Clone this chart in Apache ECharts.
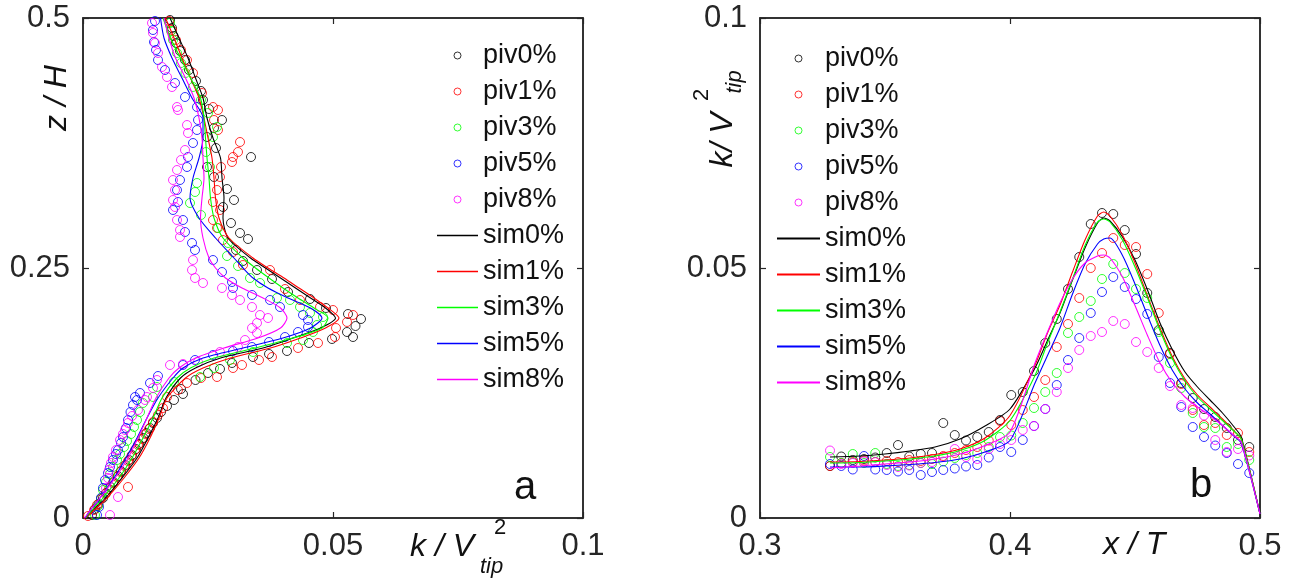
<!DOCTYPE html>
<html>
<head>
<meta charset="utf-8">
<script src="https://cdn.jsdelivr.net/npm/echarts@6/dist/echarts.min.js"></script>
<style>
html,body{margin:0;padding:0;background:#fff;}
#chart{width:1299px;height:583px;}
</style>
</head>
<body>
<div id="chart"></div>
<script>
// ---- series names and colours ----
const pivNames = ['piv0%', 'piv1%', 'piv3%', 'piv5%', 'piv8%'];
const simNames = ['sim0%', 'sim1%', 'sim3%', 'sim5%', 'sim8%'];
const seriesColors = ['#000000', '#ff0000', '#00ff00', '#0000ff', '#ff00ff'];

// ---- tick values / labels ----
const aXTicks = [0, 0.05, 0.1];   const aXLabels = ['0', '0.05', '0.1'];
const aYTicks = [0, 0.25, 0.5];   const aYLabels = ['0', '0.25', '0.5'];
const bXTicks = [0.3, 0.4, 0.5];  const bXLabels = ['0.3', '0.4', '0.5'];
const bYTicks = [0, 0.05, 0.1];   const bYLabels = ['0', '0.05', '0.1'];

// ---- panel a: measured profiles, pairs of [k/Vtip^2, z/H] ----
const pivA0 = [[0.0018,0.003],[0.0024,0.009],[0.0031,0.014],[0.0040,0.020],[0.0046,0.025],[0.0055,0.031],[0.0061,0.036],[0.0070,0.042],[0.0076,0.047],[0.0085,0.053],[0.0092,0.058],[0.0098,0.063],[0.0106,0.069],[0.0112,0.074],[0.0121,0.080],[0.0127,0.085],[0.0134,0.090],[0.0140,0.095],[0.0148,0.100],[0.0156,0.106],[0.0168,0.112],[0.0182,0.118],[0.0200,0.124],[0.0196,0.129],[0.0225,0.138],[0.0250,0.145],[0.0274,0.149],[0.0298,0.155],[0.0340,0.161],[0.0372,0.164],[0.0408,0.167],[0.0452,0.175],[0.0498,0.179],[0.0540,0.181],[0.0528,0.186],[0.0545,0.192],[0.0556,0.199],[0.0530,0.204],[0.0486,0.210],[0.0454,0.219],[0.0410,0.226],[0.0378,0.239],[0.0348,0.248],[0.0320,0.257],[0.0306,0.268],[0.0330,0.279],[0.0314,0.285],[0.0296,0.295],[0.0280,0.311],[0.0302,0.318],[0.0288,0.329],[0.0262,0.341],[0.0248,0.351],[0.0336,0.361],[0.0266,0.370],[0.0248,0.381],[0.0262,0.390],[0.0278,0.398],[0.0252,0.409],[0.0240,0.418],[0.0236,0.427],[0.0226,0.437],[0.0212,0.448],[0.0204,0.458],[0.0194,0.467],[0.0186,0.475],[0.0181,0.482],[0.0178,0.490],[0.0174,0.498]];
const pivA1 = [[0.0010,0.002],[0.0022,0.008],[0.0028,0.013],[0.0036,0.019],[0.0045,0.024],[0.0052,0.029],[0.0090,0.031],[0.0060,0.035],[0.0068,0.041],[0.0075,0.046],[0.0083,0.052],[0.0090,0.057],[0.0097,0.062],[0.0104,0.068],[0.0110,0.073],[0.0118,0.079],[0.0125,0.084],[0.0132,0.089],[0.0140,0.096],[0.0150,0.103],[0.0160,0.110],[0.0168,0.121],[0.0190,0.128],[0.0208,0.135],[0.0236,0.140],[0.0268,0.141],[0.0300,0.150],[0.0318,0.153],[0.0352,0.158],[0.0378,0.161],[0.0430,0.170],[0.0470,0.175],[0.0504,0.181],[0.0506,0.190],[0.0528,0.196],[0.0540,0.203],[0.0500,0.208],[0.0474,0.211],[0.0434,0.218],[0.0404,0.229],[0.0374,0.248],[0.0320,0.253],[0.0300,0.266],[0.0280,0.278],[0.0268,0.290],[0.0260,0.298],[0.0274,0.308],[0.0260,0.316],[0.0268,0.328],[0.0274,0.341],[0.0276,0.351],[0.0298,0.356],[0.0300,0.361],[0.0310,0.366],[0.0314,0.376],[0.0270,0.388],[0.0262,0.398],[0.0270,0.408],[0.0260,0.411],[0.0238,0.425],[0.0220,0.445],[0.0208,0.458],[0.0196,0.468],[0.0186,0.478],[0.0178,0.488],[0.0172,0.497]];
const pivA2 = [[0.0024,0.003],[0.0030,0.012],[0.0036,0.020],[0.0040,0.028],[0.0046,0.036],[0.0054,0.044],[0.0060,0.051],[0.0068,0.058],[0.0074,0.064],[0.0082,0.071],[0.0088,0.077],[0.0096,0.084],[0.0102,0.091],[0.0108,0.098],[0.0114,0.106],[0.0120,0.115],[0.0140,0.121],[0.0148,0.131],[0.0182,0.136],[0.0234,0.141],[0.0262,0.150],[0.0294,0.158],[0.0340,0.166],[0.0408,0.175],[0.0440,0.178],[0.0460,0.186],[0.0468,0.193],[0.0480,0.201],[0.0454,0.205],[0.0434,0.211],[0.0414,0.218],[0.0388,0.220],[0.0354,0.235],[0.0334,0.240],[0.0310,0.252],[0.0288,0.262],[0.0290,0.275],[0.0270,0.290],[0.0236,0.303],[0.0214,0.315],[0.0224,0.326],[0.0228,0.335],[0.0254,0.351],[0.0246,0.366],[0.0260,0.381],[0.0268,0.391],[0.0250,0.405],[0.0236,0.418],[0.0220,0.431],[0.0205,0.445],[0.0196,0.455],[0.0188,0.465],[0.0180,0.478],[0.0176,0.487],[0.0174,0.495]];
const pivA3 = [[0.0028,0.003],[0.0032,0.011],[0.0036,0.020],[0.0040,0.030],[0.0044,0.038],[0.0050,0.045],[0.0054,0.051],[0.0060,0.058],[0.0066,0.064],[0.0070,0.068],[0.0076,0.075],[0.0080,0.081],[0.0086,0.090],[0.0090,0.098],[0.0095,0.106],[0.0100,0.113],[0.0108,0.118],[0.0104,0.121],[0.0114,0.125],[0.0134,0.135],[0.0150,0.142],[0.0200,0.153],[0.0224,0.158],[0.0260,0.163],[0.0300,0.167],[0.0338,0.171],[0.0372,0.176],[0.0404,0.181],[0.0430,0.186],[0.0450,0.191],[0.0450,0.198],[0.0440,0.203],[0.0394,0.211],[0.0374,0.218],[0.0338,0.223],[0.0300,0.230],[0.0298,0.236],[0.0278,0.246],[0.0260,0.258],[0.0224,0.268],[0.0218,0.275],[0.0204,0.286],[0.0200,0.298],[0.0180,0.308],[0.0190,0.316],[0.0188,0.328],[0.0194,0.338],[0.0208,0.351],[0.0210,0.361],[0.0220,0.375],[0.0228,0.388],[0.0230,0.398],[0.0228,0.411],[0.0204,0.421],[0.0184,0.435],[0.0164,0.448],[0.0150,0.458],[0.0146,0.468],[0.0142,0.476],[0.0140,0.488],[0.0144,0.497]];
const pivA4 = [[0.0054,0.003],[0.0070,0.021],[0.0046,0.030],[0.0050,0.040],[0.0052,0.048],[0.0056,0.055],[0.0060,0.061],[0.0066,0.068],[0.0074,0.078],[0.0080,0.084],[0.0084,0.088],[0.0090,0.095],[0.0098,0.102],[0.0110,0.108],[0.0124,0.118],[0.0128,0.121],[0.0140,0.130],[0.0148,0.138],[0.0174,0.153],[0.0200,0.154],[0.0230,0.156],[0.0274,0.166],[0.0310,0.171],[0.0324,0.178],[0.0348,0.185],[0.0338,0.190],[0.0348,0.195],[0.0370,0.200],[0.0354,0.203],[0.0338,0.211],[0.0314,0.218],[0.0298,0.223],[0.0278,0.230],[0.0240,0.235],[0.0224,0.240],[0.0218,0.248],[0.0220,0.258],[0.0194,0.281],[0.0194,0.288],[0.0188,0.298],[0.0184,0.311],[0.0180,0.318],[0.0184,0.328],[0.0180,0.338],[0.0188,0.348],[0.0196,0.358],[0.0204,0.368],[0.0210,0.385],[0.0208,0.393],[0.0190,0.408],[0.0188,0.411],[0.0178,0.431],[0.0168,0.441],[0.0158,0.451],[0.0150,0.465],[0.0144,0.475],[0.0140,0.485],[0.0138,0.495]];

// ---- panel a: simulated profiles, k/Vtip^2 at each height simZ ----
const simZ  = [0, 0.01, 0.02, 0.04, 0.06, 0.08, 0.10, 0.12, 0.14, 0.15, 0.16, 0.17, 0.18, 0.19, 0.20, 0.21, 0.22, 0.23, 0.24, 0.25, 0.26, 0.28, 0.30, 0.32, 0.34, 0.36, 0.38, 0.40, 0.42, 0.44, 0.46, 0.48, 0.50];
const simA0 = [0.0006, 0.0025, 0.0045, 0.0078, 0.0108, 0.0130, 0.0150, 0.0166, 0.0195, 0.0225, 0.0275, 0.0360, 0.0420, 0.0475, 0.0505, 0.0485, 0.0455, 0.0425, 0.0395, 0.0365, 0.0335, 0.0290, 0.0280, 0.0282, 0.0278, 0.0275, 0.0260, 0.0248, 0.0240, 0.0225, 0.0210, 0.0192, 0.0174];
const simA1 = [0.0005, 0.0027, 0.0048, 0.0082, 0.0112, 0.0134, 0.0152, 0.0168, 0.0205, 0.0240, 0.0295, 0.0375, 0.0435, 0.0485, 0.0512, 0.0490, 0.0462, 0.0432, 0.0402, 0.0370, 0.0340, 0.0292, 0.0272, 0.0265, 0.0262, 0.0258, 0.0250, 0.0242, 0.0232, 0.0215, 0.0198, 0.0182, 0.0165];
const simA2 = [0.0005, 0.0022, 0.0040, 0.0072, 0.0098, 0.0120, 0.0140, 0.0158, 0.0188, 0.0215, 0.0262, 0.0345, 0.0420, 0.0478, 0.0490, 0.0462, 0.0430, 0.0400, 0.0372, 0.0345, 0.0320, 0.0280, 0.0262, 0.0255, 0.0252, 0.0248, 0.0245, 0.0242, 0.0235, 0.0215, 0.0195, 0.0175, 0.0160];
const simA3 = [0.0004, 0.0018, 0.0034, 0.0062, 0.0086, 0.0108, 0.0128, 0.0150, 0.0180, 0.0200, 0.0240, 0.0320, 0.0400, 0.0455, 0.0478, 0.0455, 0.0410, 0.0370, 0.0340, 0.0320, 0.0302, 0.0265, 0.0232, 0.0214, 0.0220, 0.0232, 0.0240, 0.0240, 0.0218, 0.0198, 0.0178, 0.0162, 0.0155];
const simA4 = [0.0003, 0.0018, 0.0034, 0.0064, 0.0090, 0.0110, 0.0128, 0.0146, 0.0172, 0.0192, 0.0225, 0.0282, 0.0350, 0.0395, 0.0408, 0.0395, 0.0360, 0.0318, 0.0285, 0.0265, 0.0252, 0.0240, 0.0235, 0.0238, 0.0242, 0.0240, 0.0238, 0.0232, 0.0222, 0.0205, 0.0185, 0.0172, 0.0162];

// ---- panel b: measured k/Vtip^2 at stations pivX ----
const pivX  = [0.3280, 0.3325, 0.3371, 0.3416, 0.3461, 0.3507, 0.3552, 0.3597, 0.3643, 0.3688, 0.3733, 0.3779, 0.3824, 0.3869, 0.3915, 0.3960, 0.4005, 0.4051, 0.4096, 0.4141, 0.4187, 0.4232, 0.4277, 0.4323, 0.4368, 0.4413, 0.4459, 0.4504, 0.4549, 0.4595, 0.4640, 0.4685, 0.4731, 0.4776, 0.4821, 0.4867, 0.4912, 0.4957];
const pivB0 = [0.0104, 0.0123, 0.0116, 0.0118, 0.0121, 0.0130, 0.0146, 0.0123, 0.0128, 0.0130, 0.0190, 0.0166, 0.0155, 0.0162, 0.0172, 0.0196, 0.0246, 0.0252, 0.0294, 0.0350, 0.0398, 0.0458, 0.0522, 0.0588, 0.0610, 0.0608, 0.0576, 0.0528, 0.0450, 0.0376, 0.0330, 0.0270, 0.0240, 0.0218, 0.0202, 0.0180, 0.0156, 0.0142];
const pivB1 = [0.0104, 0.0110, 0.0112, 0.0115, 0.0112, 0.0114, 0.0112, 0.0116, 0.0114, 0.0118, 0.0124, 0.0130, 0.0136, 0.0142, 0.0155, 0.0194, 0.0186, 0.0216, 0.0242, 0.0276, 0.0342, 0.0388, 0.0440, 0.0500, 0.0530, 0.0560, 0.0546, 0.0542, 0.0488, 0.0410, 0.0328, 0.0268, 0.0216, 0.0186, 0.0190, 0.0166, 0.0170, 0.0132];
const pivB2 = [0.0122, 0.0110, 0.0128, 0.0110, 0.0130, 0.0108, 0.0104, 0.0106, 0.0110, 0.0108, 0.0113, 0.0120, 0.0126, 0.0130, 0.0142, 0.0162, 0.0165, 0.0190, 0.0220, 0.0252, 0.0290, 0.0370, 0.0402, 0.0434, 0.0478, 0.0508, 0.0490, 0.0458, 0.0440, 0.0372, 0.0310, 0.0260, 0.0210, 0.0182, 0.0180, 0.0142, 0.0148, 0.0116];
const pivB3 = [0.0108, 0.0104, 0.0097, 0.0124, 0.0097, 0.0096, 0.0093, 0.0096, 0.0086, 0.0092, 0.0096, 0.0099, 0.0103, 0.0106, 0.0121, 0.0142, 0.0132, 0.0156, 0.0184, 0.0218, 0.0266, 0.0316, 0.0360, 0.0410, 0.0452, 0.0482, 0.0462, 0.0438, 0.0408, 0.0322, 0.0270, 0.0222, 0.0182, 0.0162, 0.0145, 0.0130, 0.0108, 0.0090];
const pivB4 = [0.0135, 0.0108, 0.0110, 0.0113, 0.0112, 0.0106, 0.0102, 0.0105, 0.0110, 0.0112, 0.0122, 0.0138, 0.0122, 0.0118, 0.0138, 0.0148, 0.0156, 0.0176, 0.0184, 0.0218, 0.0252, 0.0300, 0.0336, 0.0364, 0.0372, 0.0394, 0.0388, 0.0352, 0.0332, 0.0300, 0.0264, 0.0226, 0.0220, 0.0205, 0.0156, 0.0132, 0.0138, 0.0125];

// ---- panel b: simulated k/Vtip^2 along simX ----
const simX  = [0.328, 0.34, 0.35, 0.36, 0.37, 0.38, 0.39, 0.40, 0.41, 0.415, 0.42, 0.425, 0.43, 0.435, 0.4375, 0.44, 0.445, 0.45, 0.455, 0.46, 0.465, 0.47, 0.475, 0.48, 0.485, 0.49, 0.4925, 0.5];
const simB0 = [0.0122, 0.0124, 0.0128, 0.0134, 0.0142, 0.0158, 0.0184, 0.0218, 0.0300, 0.0355, 0.0410, 0.0476, 0.0540, 0.0590, 0.0600, 0.0594, 0.0562, 0.0516, 0.0456, 0.0390, 0.0336, 0.0292, 0.0262, 0.0236, 0.0210, 0.0180, 0.0162, 0.0008];
const simB1 = [0.0112, 0.0113, 0.0116, 0.0120, 0.0127, 0.0138, 0.0160, 0.0205, 0.0306, 0.0370, 0.0426, 0.0492, 0.0556, 0.0604, 0.0612, 0.0604, 0.0566, 0.0510, 0.0444, 0.0380, 0.0322, 0.0278, 0.0246, 0.0222, 0.0198, 0.0172, 0.0158, 0.0008];
const simB2 = [0.0110, 0.0111, 0.0114, 0.0118, 0.0124, 0.0135, 0.0155, 0.0195, 0.0285, 0.0350, 0.0412, 0.0478, 0.0545, 0.0592, 0.0598, 0.0592, 0.0556, 0.0502, 0.0440, 0.0375, 0.0318, 0.0274, 0.0242, 0.0218, 0.0195, 0.0172, 0.0158, 0.0008];
const simB3 = [0.0102, 0.0102, 0.0104, 0.0107, 0.0111, 0.0118, 0.0132, 0.0155, 0.0270, 0.0325, 0.0380, 0.0448, 0.0508, 0.0548, 0.0558, 0.0560, 0.0525, 0.0468, 0.0405, 0.0345, 0.0295, 0.0258, 0.0230, 0.0208, 0.0185, 0.0162, 0.0150, 0.0008];
const simB4 = [0.0100, 0.0104, 0.0108, 0.0112, 0.0118, 0.0128, 0.0145, 0.0172, 0.0310, 0.0372, 0.0430, 0.0478, 0.0510, 0.0524, 0.0526, 0.0520, 0.0482, 0.0425, 0.0365, 0.0310, 0.0270, 0.0242, 0.0222, 0.0204, 0.0185, 0.0163, 0.0152, 0.0008];

const pivA = [pivA0, pivA1, pivA2, pivA3, pivA4];
const simA = [simA0, simA1, simA2, simA3, simA4];
const pivB = [pivB0, pivB1, pivB2, pivB3, pivB4];
const simB = [simB0, simB1, simB2, simB3, simB4];

const FONT = '"Liberation Sans", Arial, sans-serif';
const INK = '#262626';

function labelFor(ticks, labels) {
  return function (v) {
    const i = ticks.findIndex(t => Math.abs(t - v) < 1e-9);
    return i >= 0 ? labels[i] : '';
  };
}

function valueAxis(grid, pos, ticks, labels, showLabel, margin) {
  return {
    type: 'value', gridIndex: grid, position: pos,
    min: ticks[0], max: ticks[ticks.length - 1], interval: ticks[1] - ticks[0],
    axisLine: { show: true, onZero: false, lineStyle: { color: INK, width: 1.5 } },
    axisTick: { show: true, inside: true, length: 6, lineStyle: { color: INK, width: 1.2 } },
    splitLine: { show: false },
    axisLabel: { show: showLabel, color: INK, fontSize: 31, fontFamily: FONT, margin: margin,
                 formatter: labelFor(ticks, labels) }
  };
}

const series = [];
// measured points (drawn first, lines over them)
pivNames.forEach((name, i) => {
  series.push({
    name: name, type: 'scatter', xAxisIndex: 0, yAxisIndex: 0,
    symbol: 'circle', symbolSize: 9,
    itemStyle: { color: 'rgba(0,0,0,0)', borderColor: seriesColors[i], borderWidth: 1 },
    data: pivA[i], z: 2, silent: true
  });
  series.push({
    name: name, type: 'scatter', xAxisIndex: 2, yAxisIndex: 2,
    symbol: 'circle', symbolSize: 9,
    itemStyle: { color: 'rgba(0,0,0,0)', borderColor: seriesColors[i], borderWidth: 1 },
    data: pivX.map((x, j) => [x, pivB[i][j]]), z: 2, silent: true
  });
});
simNames.forEach((name, i) => {
  series.push({
    name: name, type: 'line', xAxisIndex: 0, yAxisIndex: 0,
    symbol: 'none', smooth: 0.25,
    lineStyle: { color: seriesColors[i], width: 1.1 },
    itemStyle: { color: seriesColors[i] },
    data: simZ.map((z, j) => [simA[i][j], z]), z: 3, silent: true
  });
  series.push({
    name: name, type: 'line', xAxisIndex: 2, yAxisIndex: 2,
    symbol: 'none', smooth: 0.25,
    lineStyle: { color: seriesColors[i], width: 1.1 },
    itemStyle: { color: seriesColors[i] },
    data: simX.map((x, j) => [x, simB[i][j]]), z: 3, silent: true
  });
});

// legend entries: small open circles for measurements, plain thin strokes for simulations
const LINE_ICON = 'path://M0,0L40,0L40,1.7L0,1.7Z';
const legendData = pivNames.map((n, i) => ({
  name: n, icon: 'circle',
  itemStyle: { color: 'rgba(0,0,0,0)', borderColor: seriesColors[i], borderWidth: 1 }
})).concat(simNames.map((n, i) => ({
  name: n, icon: LINE_ICON,
  itemStyle: { color: seriesColors[i], borderWidth: 0, opacity: 1 }
})));

const legendBase = {
  data: legendData,
  orient: 'vertical', padding: 0, itemGap: 9, itemHeight: 7,
  selectedMode: false,
  textStyle: { fontSize: 27, lineHeight: 26, fontFamily: FONT, color: '#111' }
};

const titleStyle = (size, italic) => ({
  fontSize: size, fontFamily: FONT, fontStyle: italic ? 'italic' : 'normal', fill: '#111'
});

const option = {
  animation: false,
  backgroundColor: '#ffffff',
  grid: [
    { left: 83, top: 18, width: 500, height: 500, show: true, borderColor: INK, borderWidth: 1.5 },
    { left: 760, top: 18, width: 500, height: 500, show: true, borderColor: INK, borderWidth: 1.5 }
  ],
  xAxis: [
    valueAxis(0, 'bottom', aXTicks, aXLabels, true, 13),
    valueAxis(0, 'top', aXTicks, aXLabels, false, 8),
    valueAxis(1, 'bottom', bXTicks, bXLabels, true, 13),
    valueAxis(1, 'top', bXTicks, bXLabels, false, 8)
  ],
  yAxis: [
    valueAxis(0, 'left', aYTicks, aYLabels, true, 13),
    valueAxis(0, 'right', aYTicks, aYLabels, false, 8),
    valueAxis(1, 'left', bYTicks, bYLabels, true, 13),
    valueAxis(1, 'right', bYTicks, bYLabels, false, 8)
  ],
  legend: [
    Object.assign({}, legendBase, { left: 437, top: 42, itemWidth: 41 }),
    Object.assign({}, legendBase, { left: 777, top: 45, itemWidth: 43 })
  ],
  graphic: [
    // panel a axis titles
    { type: 'text', left: 410, top: 531, style: Object.assign({ text: 'k / V' }, titleStyle(32, true)) },
    { type: 'text', left: 494, top: 517, style: Object.assign({ text: '2' }, titleStyle(22, false)) },
    { type: 'text', left: 480, top: 556, style: Object.assign({ text: 'tip' }, titleStyle(22, true)) },
    { type: 'text', x: 57, y: 98, rotation: Math.PI / 2,
      style: Object.assign({ text: 'z / H', align: 'center', verticalAlign: 'middle' }, titleStyle(32, true)) },
    // panel b axis titles
    { type: 'text', left: 1103, top: 529, style: Object.assign({ text: 'x / T' }, titleStyle(32, true)) },
    { type: 'text', x: 723, y: 140, rotation: Math.PI / 2,
      style: Object.assign({ text: 'k/ V', align: 'center', verticalAlign: 'middle' }, titleStyle(32, true)) },
    { type: 'text', x: 702, y: 95, rotation: Math.PI / 2,
      style: Object.assign({ text: '2', align: 'center', verticalAlign: 'middle' }, titleStyle(22, false)) },
    { type: 'text', x: 735, y: 82, rotation: Math.PI / 2,
      style: Object.assign({ text: 'tip', align: 'center', verticalAlign: 'middle' }, titleStyle(22, true)) },
    // panel letters
    { type: 'text', x: 525, y: 488, style: Object.assign({ text: 'a', align: 'center', verticalAlign: 'middle' }, titleStyle(40, false)) },
    { type: 'text', x: 1201, y: 486, style: Object.assign({ text: 'b', align: 'center', verticalAlign: 'middle' }, titleStyle(40, false)) }
  ],
  series: series
};

const chart = echarts.init(document.getElementById('chart'), null, { renderer: 'canvas' });
chart.setOption(option);
</script>
</body>
</html>
